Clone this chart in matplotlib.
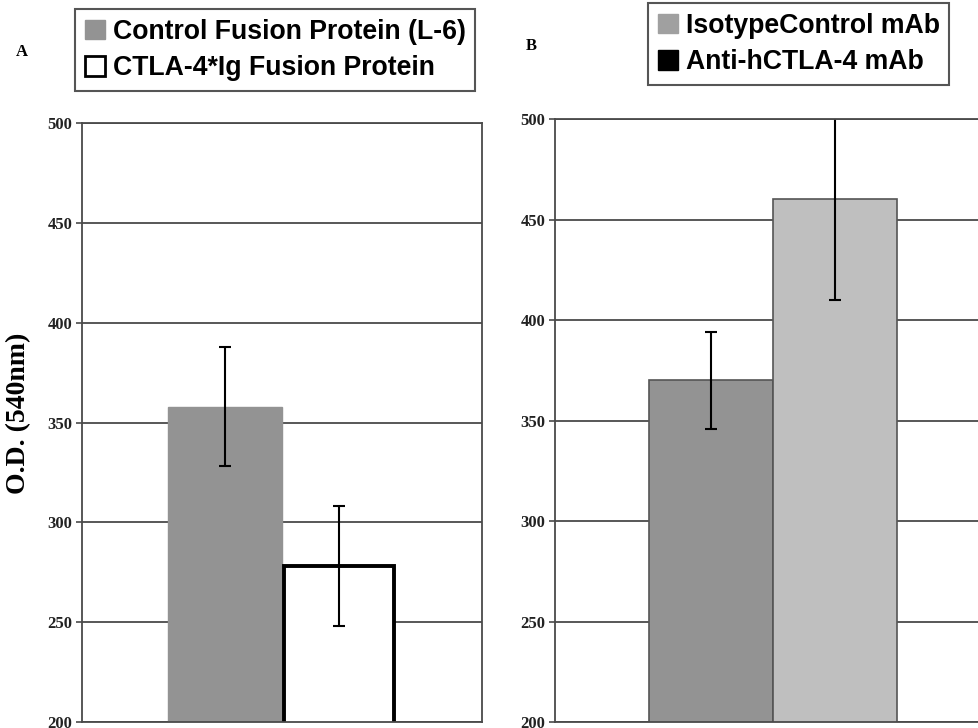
import matplotlib
matplotlib.use("Agg")
import matplotlib.pyplot as plt
from matplotlib.patches import Patch

# panel A
labels_a = ["Control Fusion Protein (L-6)", "CTLA-4*Ig Fusion Protein"]
means_a = [358, 278]
errs_a = [30, 30]

# panel B
labels_b = ["IsotypeControl mAb", "Anti-hCTLA-4 mAb"]
means_b = [370, 460]
errs_b = [24, 50]

yticks = [200, 250, 300, 350, 400, 450, 500]

fig = plt.figure(figsize=(9.79, 7.28), dpi=100)

serif = "Liberation Serif"
sans = "Liberation Sans"
grid_col = "#4a4a4a"
w = 0.285
leg_kw = dict(loc="upper left", borderaxespad=0,
              prop={"family": sans, "weight": "bold", "size": 19.2},
              handlelength=0.75, handleheight=0.75, handletextpad=0.3,
              labelspacing=0.4, borderpad=0.36, fancybox=False,
              edgecolor="#555555", framealpha=1)


def style_axis(ax):
    ax.set_xlim(0, 1)
    ax.set_ylim(200, 500)
    ax.set_yticks(yticks)
    ax.set_yticklabels([str(t) for t in yticks], fontfamily=serif,
                       fontweight="bold", fontsize=12, color="#222222")
    ax.set_xticks([])
    ax.tick_params(axis="y", length=4, width=1.2, color=grid_col, pad=3)
    ax.yaxis.grid(True, color=grid_col, linewidth=1.3)
    ax.set_axisbelow(True)
    for s in ax.spines.values():
        s.set_color(grid_col)
        s.set_linewidth(1.3)


# ---- A ----
axA = fig.add_axes([0.0838, 0.0082, 0.4085, 0.8228])
style_axis(axA)
xs = [0.5 - w / 2, 0.5 + w / 2]
axA.bar(xs[0], means_a[0], width=w, color="#939393", edgecolor="#939393")
axA.bar(xs[1], means_a[1], width=w * 0.97, color="white", edgecolor="black", linewidth=2.8)
axA.errorbar(xs, means_a, yerr=errs_a, fmt="none", ecolor="black",
             elinewidth=1.5, capsize=4, capthick=1.5)
axA.set_ylabel("O.D. (540nm)", fontfamily=serif, fontweight="bold", fontsize=20)
axA.yaxis.set_label_coords(-0.128, 0.515)

handles_a = [Patch(facecolor="#939393", edgecolor="#939393"),
             Patch(facecolor="white", edgecolor="black", linewidth=2)]
legA = fig.legend(handles_a, labels_a, bbox_to_anchor=(0.0766, 0.9876), **leg_kw)
legA.get_frame().set_linewidth(1.5)

fig.text(0.022, 0.928, "A", fontfamily=serif, fontweight="bold", fontsize=12,
         va="center", ha="center")

# ---- B ----
axB = fig.add_axes([0.5669, 0.0082, 0.4453, 0.8283])
style_axis(axB)
axB.bar(xs[0], means_b[0], width=w, color="#939393", edgecolor="#555555", linewidth=1.2)
axB.bar(xs[1], means_b[1], width=w, color="#bfbfbf", edgecolor="#555555", linewidth=1.2)
axB.errorbar(xs, means_b, yerr=errs_b, fmt="none", ecolor="black",
             elinewidth=1.5, capsize=4, capthick=1.5)

handles_b = [Patch(facecolor="#a0a0a0", edgecolor="#a0a0a0"),
             Patch(facecolor="black", edgecolor="black")]
legB = fig.legend(handles_b, labels_b, bbox_to_anchor=(0.662, 0.9959), **leg_kw)
legB.get_frame().set_linewidth(1.5)

fig.text(0.543, 0.937, "B", fontfamily=serif, fontweight="bold", fontsize=12,
         va="center", ha="center")

fig.savefig("out.png", dpi=100)
